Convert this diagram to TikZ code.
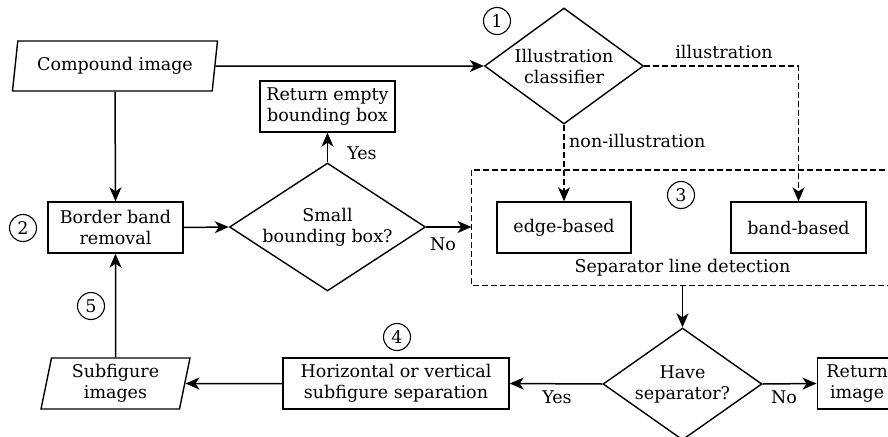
\documentclass[tikz,border=0pt]{standalone}
\usepackage{fontspec}
\setmainfont{DejaVu Serif}
\usetikzlibrary{shapes.geometric,arrows.meta}
\begin{document}
\begin{tikzpicture}[x=1pt,y=-1pt,
  every node/.style={font=\fontsize{17.5}{21}\selectfont},
  line/.style={line width=1.5pt},
  arr/.style={line, -{Stealth[length=14pt,width=12pt,inset=4pt]}},
  darr/.style={arr, dashed, dash pattern=on 6pt off 3pt},
  boxnode/.style={draw, line width=1.4pt, minimum width=135pt, minimum height=51pt, align=center, inner sep=2pt},
  dia/.style={draw, line width=1.4pt, diamond, minimum width=159pt, minimum height=116pt, inner sep=0pt},
  para/.style={draw, line width=1.4pt, trapezium, trapezium left angle=76, trapezium right angle=104, trapezium stretches body, minimum height=50pt, align=center, inner sep=2pt},
  num/.style={draw, circle, line width=1.1pt, minimum size=27pt, inner sep=0pt},
  lbl/.style={inner sep=1pt},
  ctext/.style={align=center, inner sep=0pt}
]
\useasboundingbox (0,0) rectangle (888,436);
\clip (0,0) rectangle (888,436);
% nodes
\node[para, minimum width=205pt] (comp) at (115,66) {Compound image};
\node[dia] (illu) at (564,66) {};
\node[ctext] (illu-t) at (illu) {Illustration\\classifier};
\node[boxnode] (empty) at (327.5,106.5) {Return empty\\bounding box};
\node[boxnode] (border) at (115.5,227.5) {Border band\\removal};
\node[dia, minimum width=196pt, minimum height=128pt] (small) at (327.5,227) {};
\node[ctext] (small-t) at (small) {Small\\bounding box?};
\node[boxnode, minimum width=134pt] (edge) at (564,227.5) {edge-based};
\node[boxnode] (band) at (798.5,227.5) {band-based};
\node[lbl] (sld) at (682.5,268) {Separator line detection};
\draw[line, line width=1.4pt, dashed, dash pattern=on 6pt off 3pt] (471.5,170) rectangle (900,285.5);
\coordinate (sepbox-left) at (471.5,227);
\coordinate (sepbox-bottom) at (682.5,285.5);
\node[dia, minimum height=112pt] (have) at (682.5,384) {};
\node[ctext] (have-t) at (have) {Have\\separator?};
\node[boxnode, minimum width=80pt, anchor=west] (retimg) at (816.5,383.5) {Return\\image};
\node[boxnode, minimum width=226pt] (horiz) at (396,383.5) {Horizontal or vertical\\subfigure separation};
\node[para, minimum width=149pt, minimum height=51pt] (subf) at (115.5,383.5) {Subfigure\\images};
% number circles
\node[num] (n1) at (497,21) {1};
\node[num] (n2) at (23,228) {2};
\node[num] (n3) at (681,195) {3};
\node[num] (n4) at (397,337) {4};
\node[num] (n5) at (91,306) {5};
% connectors
\draw[arr] (comp.east) -- (illu.west);
\draw[arr] (comp.south) -- (border.north);
\draw[arr] (border.east) -- (small.west);
\draw[arr] (small.north) -- (empty.south);
\node[lbl] (yes1) at (362,153) {Yes};
\draw[arr] (small.east) -- (sepbox-left);
\node[lbl] (no1) at (443,244) {No};
\draw[darr] (illu.south) -- (edge.north);
\node[lbl, anchor=west] (nonil) at (568,141) {non-illustration};
\coordinate (bend) at (798.5,66);
\draw[darr] (illu.east) -- (bend) -- (band.north);
\node[lbl] (ill) at (724,52) {illustration};
\draw[arr] (sepbox-bottom) -- (have.north);
\draw[arr] (have.east) -- (retimg.west);
\node[lbl] (no2) at (784,397) {No};
\draw[arr] (have.west) -- (horiz.east);
\node[lbl] (yes2) at (557,397) {Yes};
\draw[arr] (horiz.west) -- (subf.east);
\draw[arr] (subf.north) -- (border.south);
\end{tikzpicture}
\end{document}
